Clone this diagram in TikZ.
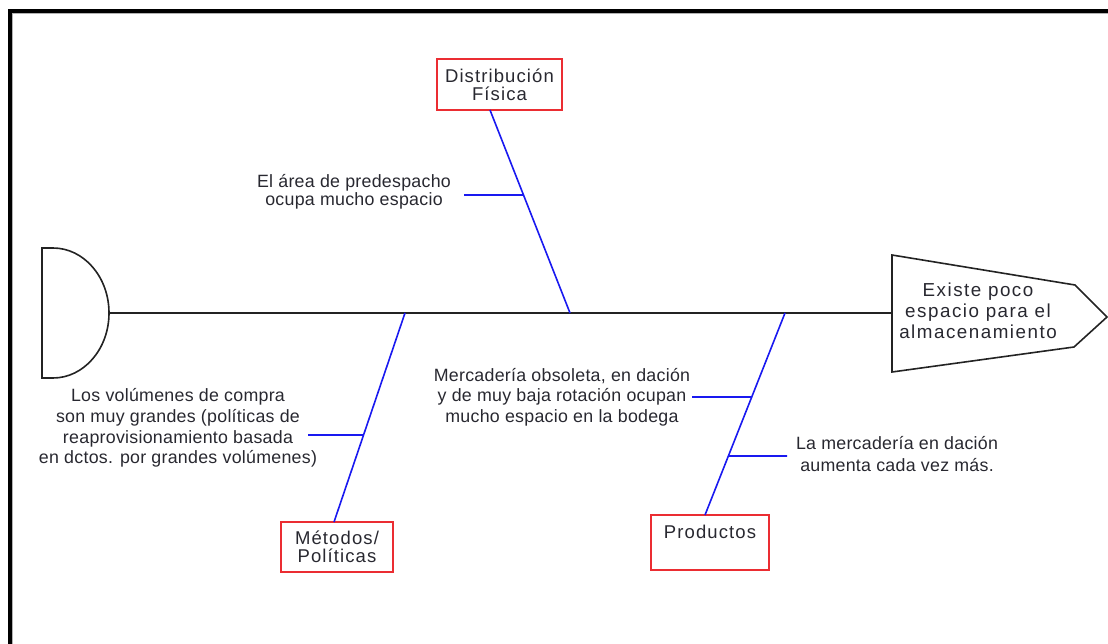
\documentclass[tikz,border=0pt]{standalone}
\usepackage{fontspec}
\setmainfont{Liberation Sans}
\newfontfamily\notefont[LetterSpace=1.5]{Liberation Sans}
\newfontfamily\catfont[LetterSpace=6]{Liberation Sans}
\newfontfamily\effectfont[LetterSpace=8]{Liberation Sans}
\definecolor{boxred}{RGB}{235,45,50}
\definecolor{boneblue}{RGB}{25,25,240}
\definecolor{ink}{RGB}{40,40,48}
\definecolor{outline}{RGB}{35,35,35}
\begin{document}
\begin{tikzpicture}[x=1pt,y=-1pt,
  cat/.style={draw=boxred,line width=1.7pt,inner sep=0pt,align=center,
    text=ink,font=\catfont\fontsize{18.5}{18}\selectfont},
  note/.style={inner sep=0pt,align=center,text=ink,
    font=\notefont\fontsize{17.8}{20.7}\selectfont},
  bone/.style={draw=boneblue,line width=1.6pt},
  spine/.style={draw=outline,line width=1.6pt},
  outlineshape/.style={draw=outline,line width=1.6pt}]
\useasboundingbox (0,0) rectangle (1108,644);

% page frame
\draw[line width=4pt] (10,644) -- (10,11) -- (1108,11);
\draw[gray!60,line width=0.8pt] (12.6,644) -- (12.6,13.6) -- (1108,13.6);

% tail (half disc) and head (arrow pentagon)
\draw[outlineshape] (42,248) -- (53,248)
  arc[start angle=90,end angle=-90,x radius=56pt,y radius=65pt]
  -- (42,378) -- cycle;
\coordinate (tail) at (109,313);
\draw[outlineshape] (892,255) -- (1075,285) -- (1107,317) -- (1074,347) -- (892,372) -- cycle;
\coordinate (head) at (892,313);
\node[note,font=\effectfont\fontsize{18.8}{21}\selectfont] (effect) at (978,311)
  {Existe poco\\espacio para el\\almacenamiento};

% spine
\draw[spine] (tail) -- (head);

% category boxes
\node[cat,minimum width=125pt,minimum height=51pt] (dist) at (499.5,84.5) {Distribución\\Física};
\node[cat,minimum width=112pt,minimum height=50pt] (meto) at (337,547) {Métodos/\\Políticas};
\node[cat,minimum width=118pt,minimum height=55pt] (prod) at (710,542.5) {Productos\\[4pt]\mbox{}};

% bone ends
\coordinate (b1) at (490,110);
\coordinate (j1) at (570,313);
\coordinate (b2) at (334,522);
\coordinate (j2) at (405,313);
\coordinate (b3) at (705,515);
\coordinate (j3) at (785,313);

\draw[bone] (b1) -- (j1);
\draw[bone] (b2) -- (j2);
\draw[bone] (b3) -- (j3);

% causes
\node[note,font=\notefont\fontsize{17.8}{18}\selectfont] (c1) at (354,191.5)
  {El área de predespacho\\ocupa mucho espacio};
\node[note] (c2) at (178,428)
  {Los volúmenes de compra\\son muy grandes (políticas de\\reaprovisionamiento basada\\en dctos. por grandes volúmenes)};
\node[note] (c3) at (562,397)
  {Mercadería obsoleta, en dación\\y de muy baja rotación ocupan\\mucho espacio en la bodega};
\node[note,font=\notefont\fontsize{17.8}{22}\selectfont] (c4) at (897,454)
  {La mercadería en dación\\aumenta cada vez más.};

% cause twigs
\coordinate (t1) at (464,195);
\coordinate (t2) at (308,435);
\coordinate (t3) at (692,397);
\coordinate (t4) at (787,456);
\coordinate (k1) at (intersection of b1--j1 and 0,195--1000,195);
\coordinate (k2) at (intersection of b2--j2 and 0,435--1000,435);
\coordinate (k3) at (intersection of b3--j3 and 0,397--1000,397);
\coordinate (k4) at (intersection of b3--j3 and 0,456--1000,456);
\draw[bone] (t1) -- (k1);
\draw[bone] (t2) -- (k2);
\draw[bone] (t3) -- (k3);
\draw[bone] (t4) -- (k4);
\end{tikzpicture}
\end{document}
